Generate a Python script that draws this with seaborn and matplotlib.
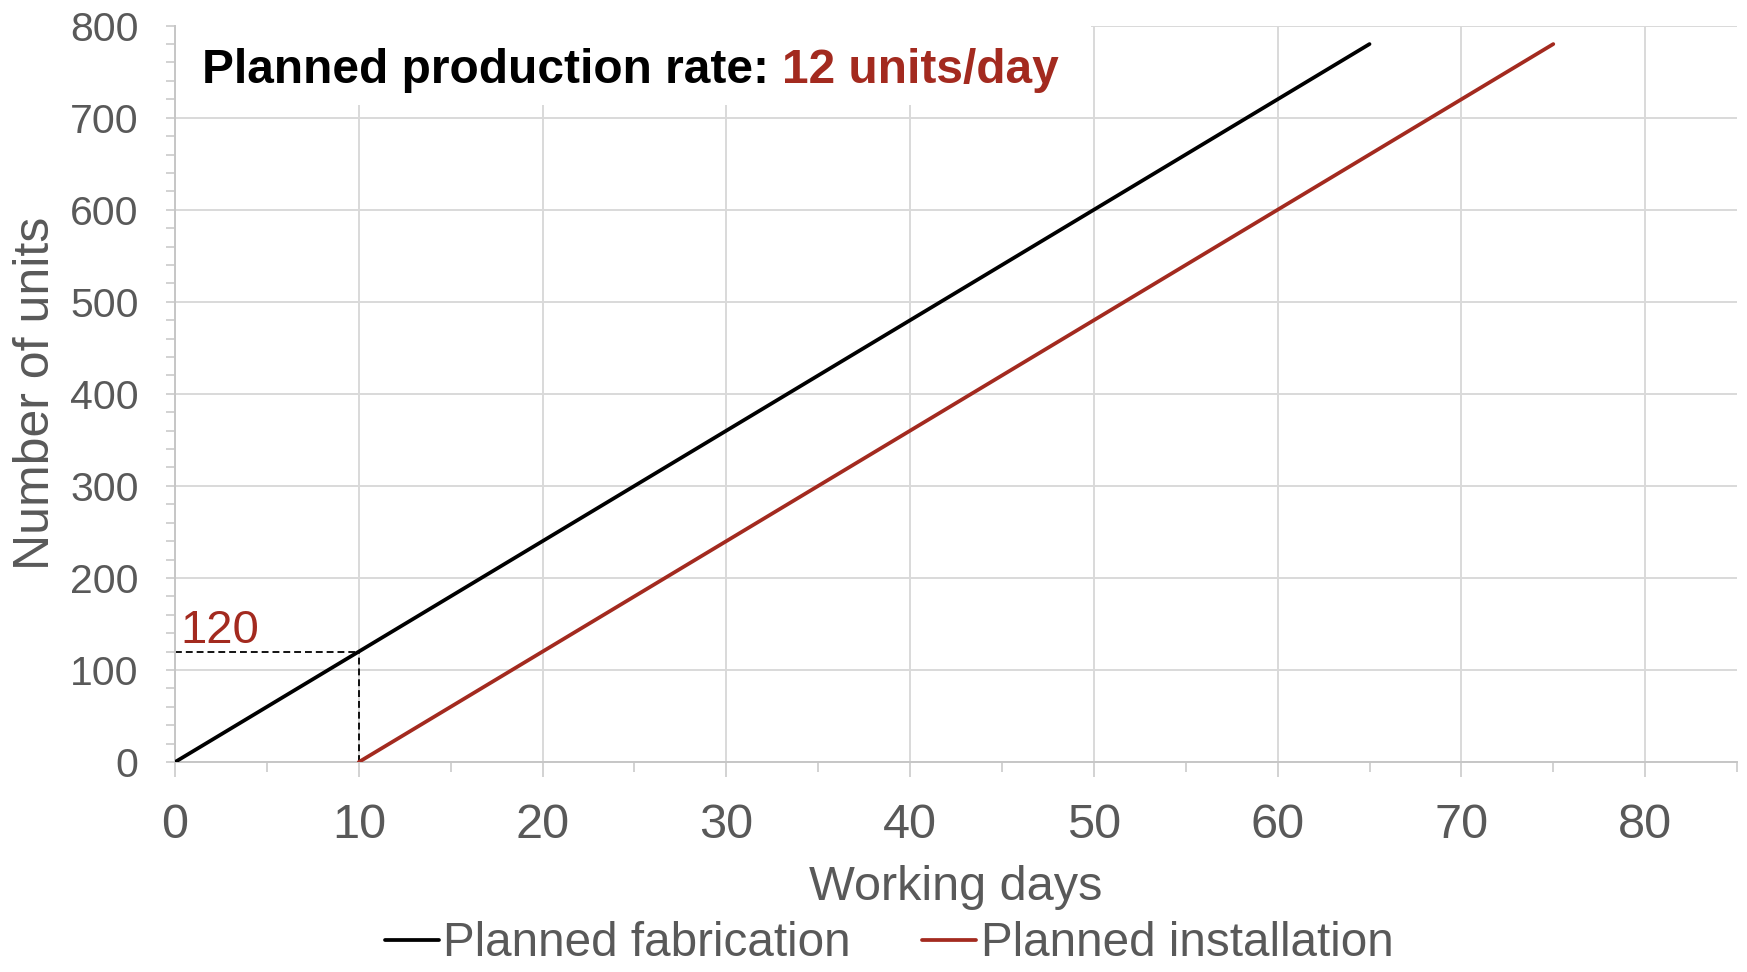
import matplotlib
matplotlib.use("Agg")
import matplotlib.pyplot as plt
from matplotlib.patches import Rectangle
from matplotlib.ticker import MultipleLocator
import seaborn as sns
import pandas as pd

# ---- data ----
fab_days = [0, 65]
fab_units = [0, 780]
inst_days = [10, 75]
inst_units = [0, 780]
series_names = ["Planned fabrication", "Planned installation"]
lag_day = 10
lag_units = 120
rate_label = "12 units/day"

RED = "#A32A1F"
GRAY_TXT = "#595959"
GRID = "#d9d9d9"
SPINE = "#c6c6c6"

sns.set_theme(style="white")
plt.rcParams["font.family"] = ["Liberation Sans", "DejaVu Sans"]

df = pd.concat([
    pd.DataFrame({"day": fab_days, "units": fab_units, "series": series_names[0]}),
    pd.DataFrame({"day": inst_days, "units": inst_units, "series": series_names[1]}),
])

fig = plt.figure(figsize=(17.47, 9.72), dpi=100)
ax = fig.add_axes([0.1002, 0.216, 0.8941, 0.7576])

sns.lineplot(data=df, x="day", y="units", hue="series",
             palette={series_names[0]: "black", series_names[1]: RED},
             linewidth=2.7, ax=ax, legend=False, zorder=3)

ax.set_xlim(0, 85)
ax.set_ylim(0, 800)
ax.xaxis.set_major_locator(MultipleLocator(10))
ax.xaxis.set_minor_locator(MultipleLocator(5))
ax.yaxis.set_major_locator(MultipleLocator(100))
ax.yaxis.set_minor_locator(MultipleLocator(20))

ax.set_axisbelow(True)
ax.grid(True, which="major", color=GRID, linewidth=1.4)
for s in ["top", "right"]:
    ax.spines[s].set_visible(False)
for s in ["left", "bottom"]:
    ax.spines[s].set_color(SPINE)
    ax.spines[s].set_linewidth(1.4)

ax.tick_params(axis="y", which="both", direction="out", length=6.7, width=1.1,
               color=SPINE, left=True)
ax.tick_params(axis="y", which="major", labelsize=29.5, labelcolor=GRAY_TXT, pad=19.5)
ax.tick_params(axis="x", which="major", direction="out", length=10.5, width=1.1,
               color=SPINE, bottom=True, labelsize=35, labelcolor=GRAY_TXT, pad=19)
ax.tick_params(axis="x", which="minor", direction="out", length=7.5, width=1.1,
               color=SPINE, bottom=True)

ax.set_xlabel("Working days", fontsize=35, color=GRAY_TXT, labelpad=12)
ax.set_ylabel("Number of units", fontsize=36, color=GRAY_TXT, labelpad=8)

# dashed guides
ax.plot([0, lag_day], [lag_units, lag_units], color="black", linewidth=1.3,
        dashes=(3.8, 2.2), zorder=2.5)
ax.plot([lag_day, lag_day], [0, lag_units], color="black", linewidth=1.3,
        dashes=(3.8, 2.2), zorder=2.5)
ax.text(0.3, 129, str(lag_units), color=RED, fontsize=34, va="baseline", ha="left")

# title box
ax.add_patch(Rectangle((0.05, 714), 49.8, 100, facecolor="white", edgecolor="none",
                       zorder=1, clip_on=False))
t1 = ax.text(1.47, 737.5, "Planned production rate: ", fontsize=34.5, fontweight="bold",
             color="black", va="baseline", ha="left", zorder=4)
fig.canvas.draw()
bb = t1.get_window_extent()
x_end = ax.transData.inverted().transform((bb.x1, bb.y0))[0]
ax.text(x_end, 737.5, rate_label, fontsize=34.5, fontweight="bold", color=RED,
        va="baseline", ha="left", zorder=4)

# legend
handles = [plt.Line2D([], [], color="black", linewidth=2.7),
           plt.Line2D([], [], color=RED, linewidth=2.7)]
leg = fig.legend(handles, series_names, loc="center", bbox_to_anchor=(0.509, 0.029),
                 ncol=2, frameon=False, fontsize=34.3, handlelength=1.13,
                 handletextpad=0.1, columnspacing=1.5, borderpad=0, borderaxespad=0)
for t in leg.get_texts():
    t.set_color(GRAY_TXT)

fig.savefig("out.png", dpi=100)
